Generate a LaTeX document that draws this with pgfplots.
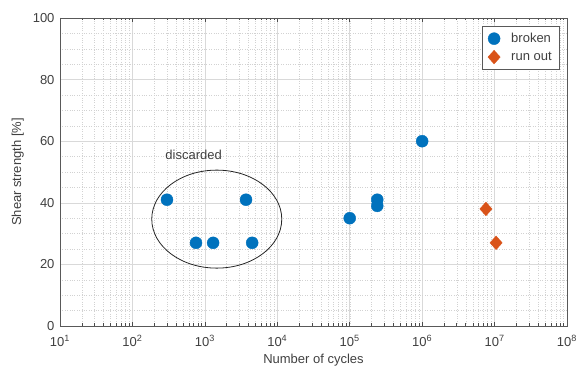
\documentclass[border=0pt]{standalone}
\usepackage{fontspec}
\setmainfont{Liberation Sans}
\usepackage{pgfplots}
\pgfplotsset{compat=1.18}
\definecolor{mblue}{RGB}{0,114,189}
\definecolor{morange}{RGB}{217,83,25}
\definecolor{txt}{RGB}{64,64,64}
\begin{document}
\begin{tikzpicture}[x=1pt,y=1pt]
\begin{axis}[
  at={(0,0)}, anchor=south west,
  scale only axis, width=507pt, height=308pt,
  xmode=log, xmin=10, xmax=1e8, ymin=0, ymax=100,
  ytick={0,20,40,60,80,100},
  xtick={1e1,1e2,1e3,1e4,1e5,1e6,1e7,1e8},
  xticklabels={10\textsuperscript{1},10\textsuperscript{2},10\textsuperscript{3},10\textsuperscript{4},10\textsuperscript{5},10\textsuperscript{6},10\textsuperscript{7},10\textsuperscript{8}},
  minor y tick num=3,
  grid=both,
  major grid style={gray!30, line width=0.5pt},
  minor grid style={gray!35, dotted, line width=0.4pt},
  axis line style={gray!70!black, line width=0.6pt},
  tick style={gray!60!black, line width=0.5pt},
  minor tick length=2.5pt, major tick length=4pt,
  tick align=inside,
  ytick style={draw=none},
  extra y ticks={0,20,40,60,80,100}, extra y tick labels={},
  extra y tick style={grid=none, tick style={gray!60!black}},
  tick label style={font=\fontsize{13}{15}\selectfont, text=txt},
  xticklabel style={yshift=-6pt},
  yticklabel style={xshift=-2pt},
  /pgf/number format/assume math mode=true,
  xlabel={Number of cycles},
  ylabel={Shear strength [\%]},
  label style={font=\fontsize{13}{15}\selectfont, text=txt},
  xlabel style={yshift=-1pt},
  ylabel style={yshift=2pt},
  legend style={at={(0.986,0.974)}, anchor=north east, draw=gray!70!black,
    font=\fontsize{13}{15}\selectfont, text=txt, row sep=4pt,
    inner xsep=6pt, inner ysep=5pt, cells={anchor=west},
    /tikz/every odd column/.append style={column sep=9pt}},
  legend cell align=left,
  clip=false,
]
\addplot[only marks, mark=*, mark size=6pt, color=mblue] coordinates {
  (300,41) (755,27) (1300,27) (3700,41) (4500,27)
  (1e5,35) (2.4e5,41) (2.4e5,39) (1e6,60)
};
\addlegendentry{broken}
\addplot[only marks, mark=diamond*, mark size=6.8pt, color=morange, mark options={xscale=1.2}] coordinates {
  (7.6e6,38) (1.05e7,27)
};
\addlegendentry{run out}
\draw[gray!30!black, line width=0.8pt] (axis cs:1460,34.7) ellipse [x radius=65pt, y radius=49pt];
\node[font=\fontsize{13}{15}\selectfont, text=txt] at (axis cs:700,55.5) {discarded};
\end{axis}
\pgfresetboundingbox
\path (-60,-46) rectangle (519,326);
\end{tikzpicture}
\end{document}
